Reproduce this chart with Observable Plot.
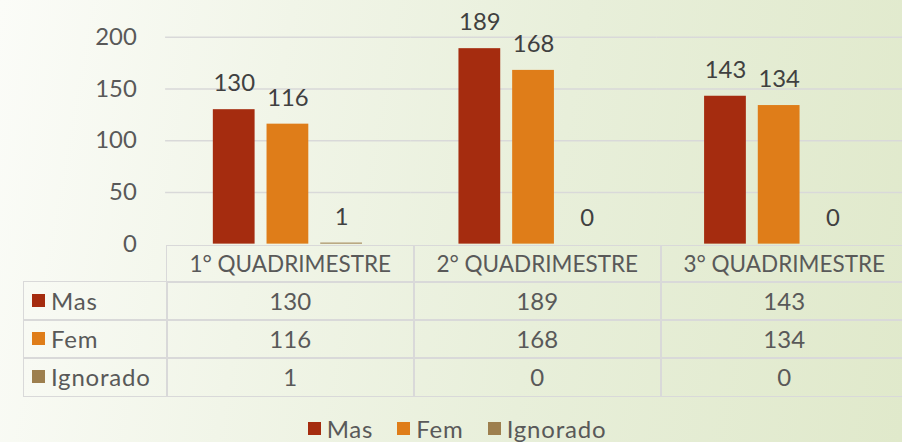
<!DOCTYPE html>
<html><head><meta charset="utf-8">
<script src="https://cdn.jsdelivr.net/npm/d3@7"></script>
<script src="https://cdn.jsdelivr.net/npm/@observablehq/plot@0.6"></script>
<style>
html,body{margin:0;padding:0;}
#wrap{position:relative;width:902px;height:442px;overflow:hidden;
  background:linear-gradient(100deg,#fbfcf8 0%,#f1f5e8 30%,#e8efda 60%,#e0e9cb 100%);
  font-family:Lato,"Noto Sans",sans-serif;color:#595959;}
#chart{position:absolute;left:0;top:0;}
.cell{position:absolute;box-sizing:border-box;border:1.5px solid #d9d9d9;display:flex;align-items:center;justify-content:center;font-size:24px;white-space:nowrap;}
.head{font-size:22.5px;}
.rowlab{justify-content:flex-start;padding-left:8px;letter-spacing:0.8px;}
.sq{display:inline-block;width:13px;height:13px;margin-right:6px;flex:none;}
#legend{position:absolute;left:0;width:100%;top:414px;display:flex;justify-content:center;align-items:center;font-size:24px;letter-spacing:0.8px;padding-left:12px;box-sizing:border-box;}
#legend .item{display:flex;align-items:center;margin:0 12px;}
</style></head><body>
<div id="wrap"><div id="chart"></div><div id="table"></div><div id="legend"></div></div>
<script>
const categories = ["1° QUADRIMESTRE", "2° QUADRIMESTRE", "3° QUADRIMESTRE"];
const series = ["Mas", "Fem", "Ignorado"];
const colors = ["#a52c0f", "#df7d19", "#9d7f4e"];
const mas = [130, 189, 143];
const fem = [116, 168, 134];
const ignorado = [1, 0, 0];
const yTicks = [0, 50, 100, 150, 200];

const values = [mas, fem, ignorado];
const data = categories.flatMap((c, i) => series.map((s, j) => ({category: c, series: s, value: values[j][i]})));

const plot = Plot.plot({
  width: 907, height: 250,
  marginTop: 37, marginBottom: 5, marginLeft: 165, marginRight: 0,
  style: {background: "transparent", fontFamily: "Lato, 'Noto Sans', sans-serif", fontSize: "24px", color: "#595959", overflow: "visible"},
  fx: {domain: categories, padding: 0, axis: null},
  x: {domain: series, paddingInner: 0.218, paddingOuter: 0.855, axis: null},
  y: {domain: [0, 200], axis: null},
  color: {domain: series, range: colors},
  marks: [
    Plot.ruleY(yTicks.filter(d => d > 0), {stroke: "#d9d9d9", strokeWidth: 1.5}),
    Plot.barY(data, {fx: "category", x: "series", y: "value", fill: "series"}),
    Plot.text(data, {fx: "category", x: "series", y: "value", text: d => String(d.value), dy: -26, fill: "#404040", fontSize: 24}),
    Plot.axisY(yTicks, {tickSize: 0, tickPadding: 29, fontSize: 24, fill: "#595959", label: null})
  ]
});
document.getElementById("chart").appendChild(plot);

// data table aligned on the fx scale
const fx = plot.scale("fx");
const bw = fx.bandwidth;
const table = document.getElementById("table");
const yScale = plot.scale("y");
const top0 = yScale.apply(0);
const headH = 36, rowH = 38, labelLeft = 23;
function cell(x, y, w, h, html, cls) {
  const d = document.createElement("div");
  d.className = "cell" + (cls ? " " + cls : "");
  d.style.left = x + "px"; d.style.top = y + "px";
  d.style.width = w + "px"; d.style.height = h + "px";
  d.innerHTML = html;
  table.appendChild(d);
}
const x0 = fx.apply(categories[0]);
categories.forEach((c, i) => {
  const x = fx.apply(c);
  cell(x, top0, bw + 1.5, headH + 1.5, c, "head");
  series.forEach((s, j) => {
    cell(x, top0 + headH + j * rowH, bw + 1.5, rowH + 1.5, String(values[j][i]));
  });
});
series.forEach((s, j) => {
  cell(labelLeft, top0 + headH + j * rowH, x0 - labelLeft + 1.5, rowH + 1.5,
    `<span class="sq" style="background:${colors[j]}"></span>${s}`, "rowlab");
});

// legend
const legend = document.getElementById("legend");
series.forEach((s, j) => {
  const it = document.createElement("div");
  it.className = "item";
  it.innerHTML = `<span class="sq" style="background:${colors[j]}"></span>${s}`;
  legend.appendChild(it);
});
</script>
</body></html>
